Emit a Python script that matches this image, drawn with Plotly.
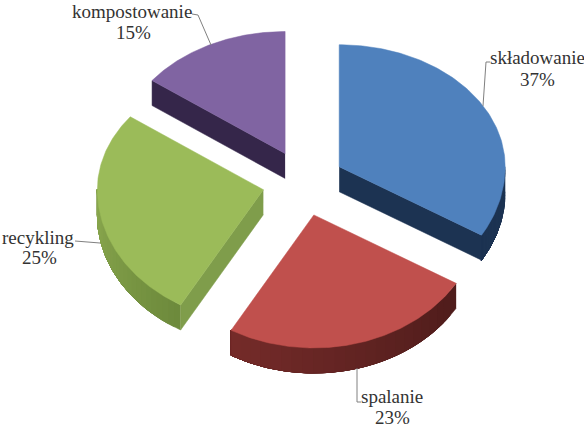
import numpy as np
import plotly.graph_objects as go

categories = ["składowanie", "spalanie", "recykling", "kompostowanie"]
# the labels printed on the chart
shares = [37, 23, 25, 15]
# the slice sizes as they are actually drawn in the picture (the 3d view distorts them)
drawn_shares = [33.6, 24.7, 26.9, 14.8]

top_colors = ["#4f81bd", "#c0504d", "#9bbb59", "#8064a2"]
rim_colors = [("#1c3352", "#1c3352"), ("#4f1c1b", "#742b29"), ("#6d8a3c", "#8aa84e"), ("#35264a", "#35264a")]
cut_colors = ["#1c3352", None, "#7f9d4b", "#35264a"]
cut_edge = ["end", None, "start", "start"]

# pixel geometry of the tilted pie
CX, CY = 303.5, 183
RX, RY_BACK, RY_FRONT = 166, 122, 133
EXPLODE_X, EXPLODE_Y = 41, 33
DEPTH = 25

name_pos = [(537, 57), (392, 396), (38, 237), (132, 11)]
share_pos = [(537, 79), (392, 417), (39, 257), (133, 32)]
leaders = [
    [(483, 106), (486, 62), (490, 62)],
    [(357, 368), (357, 402), (361, 402)],
    [(100, 243), (75, 241)],
    [(211, 45), (198, 15), (192, 14)],
]


def rim(cx, cy, t):
    ry = np.where(np.cos(t) > 0, RY_BACK, RY_FRONT)
    return cx + RX * np.sin(t), cy - ry * np.cos(t)


def mix(c1, c2, f):
    a = [int(c1[i:i + 2], 16) for i in (1, 3, 5)]
    b = [int(c2[i:i + 2], 16) for i in (1, 3, 5)]
    return "rgb({},{},{})".format(*[round(p + (q - p) * f) for p, q in zip(a, b)])


def poly(fig, xs, ys, color):
    fig.add_trace(go.Scatter(x=list(xs), y=list(ys), mode="lines", fill="toself",
                             fillcolor=color, line=dict(color=color, width=0.5),
                             hoverinfo="skip", showlegend=False))


fig = go.Figure()
start = 0.0
for i, name in enumerate(categories):
    sweep = drawn_shares[i] / sum(drawn_shares) * 2 * np.pi
    end = start + sweep
    mid = (start + end) / 2
    ax = CX + EXPLODE_X * np.sin(mid)
    ay = CY - EXPLODE_Y * np.cos(mid)

    # side wall on the front half of the rim, each band painted over the rest so no seams show
    a0, a1 = max(start, np.pi / 2), min(end, 3 * np.pi / 2)
    if a1 > a0:
        edges = np.linspace(a0, a1, 25)
        for k in range(len(edges) - 1):
            tt = np.linspace(edges[k], a1, 60)
            x, y = rim(ax, ay, tt)
            poly(fig, np.r_[x, x[::-1]], np.r_[y, y[::-1] + DEPTH],
                 mix(rim_colors[i][0], rim_colors[i][1], k / (len(edges) - 2)))

    # radial cut face, only where it looks towards the viewer
    if cut_colors[i]:
        edge = end if cut_edge[i] == "end" else start
        ex, ey = rim(ax, ay, np.array([edge]))
        poly(fig, [ax, ex[0], ex[0], ax], [ay, ey[0], ey[0] + DEPTH, ay + DEPTH], cut_colors[i])

    # top face
    tt = np.linspace(start, end, 120)
    x, y = rim(ax, ay, tt)
    poly(fig, np.r_[ax, x, ax], np.r_[ay, y, ay], top_colors[i])

    start = end

for pts in leaders:
    fig.add_trace(go.Scatter(x=[p[0] for p in pts], y=[p[1] for p in pts], mode="lines",
                             line=dict(color="#808080", width=1), hoverinfo="skip", showlegend=False))

label_font = dict(family="Liberation Serif", size=19, color="#333333")
for name, share, np_, sp in zip(categories, shares, name_pos, share_pos):
    fig.add_annotation(x=np_[0], y=np_[1], xref="x", yref="y", text=name, showarrow=False,
                       font=label_font, borderpad=0)
    fig.add_annotation(x=sp[0], y=sp[1], xref="x", yref="y", text=f"{share}%", showarrow=False,
                       font=label_font, borderpad=0)

fig.update_xaxes(range=[0, 584], visible=False, fixedrange=True)
fig.update_yaxes(range=[429, 0], visible=False, fixedrange=True)
fig.update_layout(width=584, height=429, margin=dict(l=0, r=0, t=0, b=0),
                  paper_bgcolor="white", plot_bgcolor="white", showlegend=False)
fig.write_html("out.html", config={"displayModeBar": False},
               post_script="document.body.style.margin='0';")
